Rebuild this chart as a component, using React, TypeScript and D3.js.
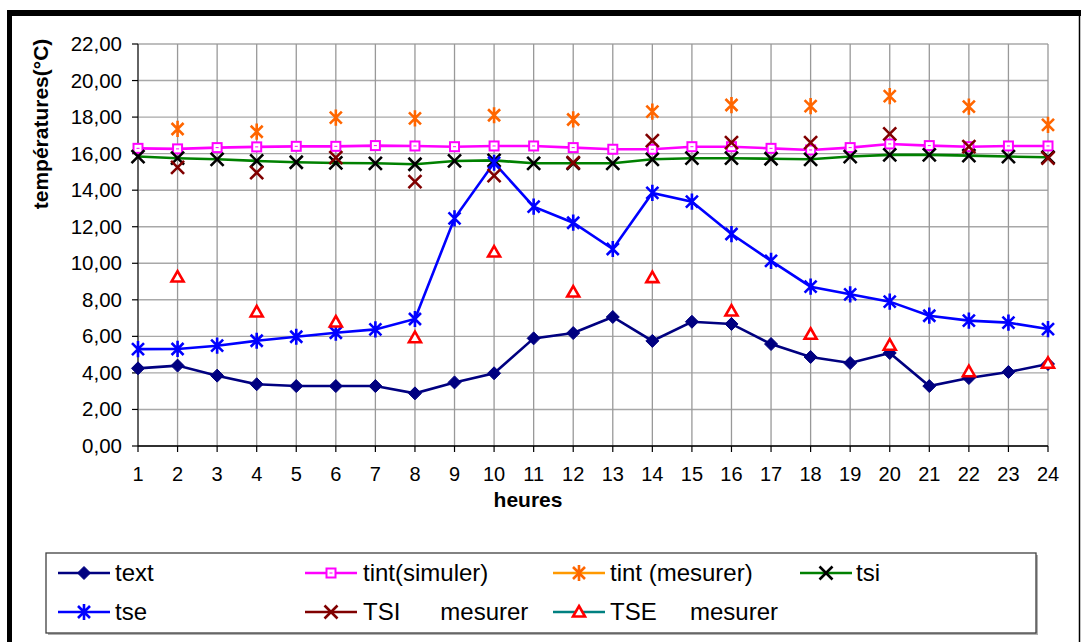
import React from 'react';
import * as d3 from 'd3';

const hours = [1, 2, 3, 4, 5, 6, 7, 8, 9, 10, 11, 12, 13, 14, 15, 16, 17, 18, 19, 20, 21, 22, 23, 24];
const yTicks = [0, 2, 4, 6, 8, 10, 12, 14, 16, 18, 20, 22];

const textVals = [4.25, 4.4, 3.85, 3.38, 3.28, 3.28, 3.28, 2.88, 3.48, 3.98, 5.89, 6.18, 7.06, 5.75, 6.8, 6.68, 5.58, 4.87, 4.54, 5.09, 3.28, 3.72, 4.05, 4.49];
const tseVals = [5.3, 5.31, 5.49, 5.76, 5.98, 6.2, 6.38, 6.95, 12.46, 15.5, 13.1, 12.22, 10.78, 13.85, 13.37, 11.6, 10.13, 8.72, 8.3, 7.9, 7.13, 6.86, 6.75, 6.4];
const tintSimVals = [16.29, 16.26, 16.33, 16.37, 16.4, 16.4, 16.44, 16.42, 16.38, 16.42, 16.42, 16.33, 16.24, 16.24, 16.38, 16.38, 16.29, 16.2, 16.33, 16.53, 16.44, 16.38, 16.42, 16.42];
const tsiVals = [15.84, 15.75, 15.69, 15.6, 15.53, 15.49, 15.47, 15.42, 15.6, 15.63, 15.47, 15.47, 15.47, 15.69, 15.75, 15.75, 15.72, 15.69, 15.84, 15.93, 15.93, 15.89, 15.84, 15.8];

const measHours = [2, 4, 6, 8, 10, 12, 14, 16, 18, 20, 22, 24];
const tintMesVals = [17.35, 17.2, 17.97, 17.93, 18.1, 17.87, 18.3, 18.66, 18.6, 19.15, 18.57, 17.57];
const tsiMesVals = [15.25, 14.96, 15.78, 14.47, 14.8, 15.51, 16.71, 16.6, 16.6, 17.08, 16.38, 15.75];
const tseMesVals = [9.3, 7.39, 6.84, 5.98, 10.67, 8.48, 9.27, 7.44, 6.17, 5.57, 4.12, 4.58];

const legendRow1 = ['text', 'tint(simuler)', 'tint (mesurer)', 'tsi'];
const legendRow2 = ['tse', 'TSI      mesurer', 'TSE     mesurer'];

const FONT = '"Liberation Sans", Arial, Helvetica, sans-serif';

type MarkerKind = 'diamond' | 'square' | 'star' | 'x' | 'triangle';

function Marker({ kind, x, y, color }: { kind: MarkerKind; x: number; y: number; color: string }) {
  if (kind === 'diamond') {
    const r = 6.5;
    return <path d={`M${x},${y - r}L${x + r},${y}L${x},${y + r}L${x - r},${y}Z`} fill={color} stroke={color} strokeWidth={1} />;
  }
  if (kind === 'square') {
    const r = 4.5;
    return (
      <g>
        <rect x={x - r} y={y - r} width={2 * r} height={2 * r} fill="#fff" stroke={color} strokeWidth={2} />
        <line x1={x - 1.5} x2={x + 1.5} y1={y} y2={y} stroke={color} strokeWidth={1} />
      </g>
    );
  }
  if (kind === 'star') {
    const r = 6;
    return (
      <path
        d={`M${x - r},${y - r}L${x + r},${y + r}M${x - r},${y + r}L${x + r},${y - r}M${x},${y - r * 1.35}L${x},${y + r * 1.35}`}
        stroke={color}
        strokeWidth={2.6}
        fill="none"
      />
    );
  }
  if (kind === 'x') {
    const r = 6.5;
    return <path d={`M${x - r},${y - r}L${x + r},${y + r}M${x - r},${y + r}L${x + r},${y - r}`} stroke={color} strokeWidth={2.6} fill="none" />;
  }
  const s = 6;
  return <path d={`M${x},${y - s}L${x + s},${y + s * 0.75}L${x - s},${y + s * 0.75}Z`} stroke={color} strokeWidth={2.6} fill="#fff" />;
}

export default function App() {
  const W = 1081;
  const H = 642;
  const x = d3.scalePoint<number>().domain(hours).range([138, 1048]);
  const y = d3.scaleLinear().domain([0, 22]).range([446, 44]);
  const fmt = (v: number) => d3.format('.2f')(v).replace('.', ',');

  const line = (vals: number[]) =>
    d3
      .line<number>()
      .x((_, i) => x(hours[i]) as number)
      .y((v) => y(v))(vals) || '';

  const legendItems = [
    { label: legendRow1[0], line: '#000080', marker: 'diamond' as MarkerKind, mcolor: '#000080', lx: 58, tx: 115, row: 0 },
    { label: legendRow1[1], line: '#FF00FF', marker: 'square' as MarkerKind, mcolor: '#FF00FF', lx: 305, tx: 363, row: 0 },
    { label: legendRow1[2], line: '#FF9900', marker: 'star' as MarkerKind, mcolor: '#FF6600', lx: 553, tx: 610, row: 0 },
    { label: legendRow1[3], line: '#008000', marker: 'x' as MarkerKind, mcolor: '#000000', lx: 800, tx: 856, row: 0 },
    { label: legendRow2[0], line: '#0000FF', marker: 'star' as MarkerKind, mcolor: '#0000FF', lx: 58, tx: 115, row: 1 },
    { label: legendRow2[1], line: '#800000', marker: 'x' as MarkerKind, mcolor: '#800000', lx: 305, tx: 363, row: 1 },
    { label: legendRow2[2], line: '#008080', marker: 'triangle' as MarkerKind, mcolor: '#FF0000', lx: 553, tx: 610, row: 1 },
  ];
  const rowY = [573, 612];

  return (
    <svg width={W} height={H} style={{ position: 'absolute', left: 0, top: 0, background: '#fff' }} fontFamily={FONT}>
      <rect x={0} y={0} width={W} height={H} fill="#fff" />
      {/* frame */}
      <rect x={7} y={10} width={W - 7} height={6} fill="#000" />
      <rect x={7} y={10} width={5} height={H - 10} fill="#000" />
      <line x1={1079.5} x2={1079.5} y1={10} y2={H} stroke="#000" strokeWidth={1.5} />

      {/* grid */}
      {yTicks.map((t) => (
        <line key={'h' + t} x1={138} x2={1048} y1={y(t)} y2={y(t)} stroke="#a8a8a8" strokeWidth={1.4} />
      ))}
      {hours.map((h) => (
        <line key={'v' + h} x1={x(h)} x2={x(h)} y1={y(22)} y2={y(0)} stroke="#999" strokeWidth={1.3} />
      ))}
      {/* axes */}
      <line x1={138} x2={138} y1={y(22)} y2={y(0)} stroke="#333" strokeWidth={1.3} />
      <line x1={138} x2={1048} y1={y(0)} y2={y(0)} stroke="#000" strokeWidth={1.3} />
      {yTicks.map((t) => (
        <g key={'yt' + t}>
          <line x1={132} x2={138} y1={y(t)} y2={y(t)} stroke="#000" strokeWidth={1.2} />
          <text x={122} y={y(t) + 7} textAnchor="end" fontSize={20.5} fill="#000">
            {fmt(t)}
          </text>
        </g>
      ))}
      {hours.map((h) => (
        <g key={'xt' + h}>
          <line x1={x(h)} x2={x(h)} y1={446} y2={452} stroke="#000" strokeWidth={1.2} />
          <text x={x(h)} y={481} textAnchor="middle" fontSize={20} fill="#000">
            {h}
          </text>
        </g>
      ))}
      <text x={528} y={507} textAnchor="middle" fontSize={21} fontWeight="bold" fill="#000">
        heures
      </text>
      <text transform={`translate(48,124) rotate(-90)`} textAnchor="middle" fontSize={21} fontWeight="bold" fill="#000">
        températures(°C)
      </text>

      {/* series in Excel order */}
      <path d={line(textVals)} fill="none" stroke="#000080" strokeWidth={2.6} />
      {textVals.map((v, i) => (
        <Marker key={'m0' + i} kind="diamond" x={x(hours[i]) as number} y={y(v)} color="#000080" />
      ))}
      <path d={line(tintSimVals)} fill="none" stroke="#FF00FF" strokeWidth={2.6} />
      {tintSimVals.map((v, i) => (
        <Marker key={'m1' + i} kind="square" x={x(hours[i]) as number} y={y(v)} color="#FF00FF" />
      ))}
      {tintMesVals.map((v, i) => (
        <Marker key={'m2' + i} kind="star" x={x(measHours[i]) as number} y={y(v)} color="#FF6600" />
      ))}
      <path d={line(tsiVals)} fill="none" stroke="#008000" strokeWidth={2.6} />
      {tsiVals.map((v, i) => (
        <Marker key={'m3' + i} kind="x" x={x(hours[i]) as number} y={y(v)} color="#000000" />
      ))}
      <path d={line(tseVals)} fill="none" stroke="#0000FF" strokeWidth={2.6} />
      {tseVals.map((v, i) => (
        <Marker key={'m4' + i} kind="star" x={x(hours[i]) as number} y={y(v)} color="#0000FF" />
      ))}
      {tsiMesVals.map((v, i) => (
        <Marker key={'m5' + i} kind="x" x={x(measHours[i]) as number} y={y(v)} color="#800000" />
      ))}
      {tseMesVals.map((v, i) => (
        <Marker key={'m6' + i} kind="triangle" x={x(measHours[i]) as number} y={y(v) + 1} color="#FF0000" />
      ))}

      {/* legend */}
      <rect x={48} y={555} width={990} height={80} fill="#b0b0b0" />
      <rect x={46} y={553} width={990} height={80} fill="#fff" stroke="#404040" strokeWidth={1.3} />
      {legendItems.map((it, i) => (
        <g key={'lg' + i}>
          <line x1={it.lx} x2={it.lx + 52} y1={rowY[it.row]} y2={rowY[it.row]} stroke={it.line} strokeWidth={2.6} />
          <Marker kind={it.marker} x={it.lx + 26} y={rowY[it.row]} color={it.mcolor} />
          <text x={it.tx} y={rowY[it.row] + 8} fontSize={24} fill="#000" style={{ whiteSpace: 'pre' }} xmlSpace="preserve">
            {it.label}
          </text>
        </g>
      ))}
    </svg>
  );
}
